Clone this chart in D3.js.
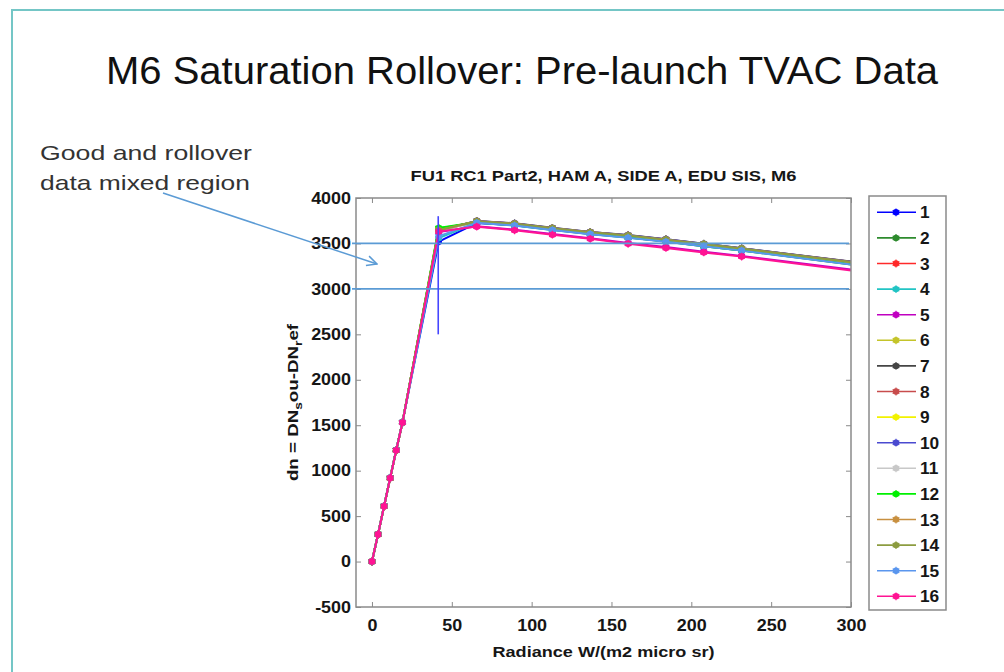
<!DOCTYPE html>
<html>
<head>
<meta charset="utf-8">
<script src="https://cdn.jsdelivr.net/npm/d3@7"></script>
<style>
  body { margin: 0; background: #fff; }
  svg { display: block; font-family: "Liberation Sans", Arial, sans-serif; }
</style>
</head>
<body>
<svg id="chart" width="1004" height="672"></svg>
<script>
// Radiance levels of the TVAC sweep (last point lies beyond the plotted range)
const radiance = [0, 3.8, 7.6, 11.4, 15.2, 19.1, 41.8, 65.6, 89.3, 113, 136.7, 160.4, 184.1, 207.8, 231.5, 320];

// dn = DN_sou - DN_ref for each of the 16 detectors
const det01 = [0, 300, 612, 921, 1228, 1532, 3520, 3725, 3700, 3652, 3607, 3570, 3525, 3476, 3428, 3232];
const det02 = [0, 301, 611, 920, 1226, 1531, 3665, 3730, 3700, 3650, 3605, 3565, 3520, 3470, 3422, 3225];
const det03 = [0, 299, 610, 919, 1227, 1530, 3640, 3740, 3712, 3663, 3618, 3582, 3537, 3488, 3440, 3245];
const det04 = [0, 300, 610, 920, 1225, 1529, 3560, 3728, 3698, 3648, 3603, 3565, 3520, 3470, 3423, 3228];
const det05 = [0, 298, 608, 918, 1224, 1528, 3625, 3690, 3652, 3603, 3558, 3505, 3460, 3410, 3363, 3168];
const det06 = [0, 300, 611, 921, 1226, 1531, 3645, 3742, 3715, 3667, 3621, 3585, 3540, 3491, 3443, 3250];
const det07 = [0, 301, 612, 922, 1228, 1533, 3648, 3748, 3722, 3672, 3626, 3592, 3547, 3497, 3447, 3258];
const det08 = [0, 300, 610, 920, 1226, 1531, 3642, 3745, 3718, 3668, 3623, 3588, 3543, 3494, 3445, 3254];
const det09 = [0, 300, 609, 919, 1225, 1530, 3650, 3735, 3706, 3657, 3612, 3575, 3530, 3481, 3433, 3238];
const det10 = [0, 301, 611, 921, 1227, 1532, 3638, 3746, 3720, 3670, 3625, 3590, 3545, 3496, 3446, 3256];
const det11 = [0, 300, 610, 920, 1226, 1530, 3640, 3738, 3710, 3660, 3615, 3580, 3535, 3486, 3438, 3242];
const det12 = [0, 300, 611, 920, 1226, 1531, 3670, 3733, 3703, 3653, 3608, 3568, 3523, 3473, 3426, 3230];
const det13 = [0, 299, 610, 919, 1225, 1530, 3645, 3744, 3716, 3667, 3622, 3586, 3541, 3492, 3443, 3250];
const det14 = [0, 300, 610, 920, 1226, 1531, 3646, 3743, 3717, 3668, 3622, 3587, 3542, 3493, 3444, 3252];
const det15 = [0, 300, 611, 921, 1227, 1531, 3580, 3727, 3697, 3647, 3602, 3563, 3518, 3468, 3421, 3224];
const det16 = [0, 299, 609, 919, 1225, 1529, 3630, 3685, 3645, 3596, 3551, 3496, 3450, 3401, 3355, 3158];

const detectors = [det01, det02, det03, det04, det05, det06, det07, det08,
                   det09, det10, det11, det12, det13, det14, det15, det16];
const detectorNames = ["1","2","3","4","5","6","7","8","9","10","11","12","13","14","15","16"];
const detectorColors = ["#0000ff","#2e8b2e","#ff2a2a","#22c4c4","#c000c0","#c4c42a","#454545","#c84c4c",
                        "#f2f200","#4a4ad0","#c8c8c8","#00f000","#c89040","#8c9c40","#5a96ee","#ff1493"];

const xTicks = [0, 50, 100, 150, 200, 250, 300];
const yTicks = [-500, 0, 500, 1000, 1500, 2000, 2500, 3000, 3500, 4000];
const xDomain = [-10, 300];
const yDomain = [-500, 4000];

// Threshold lines and the saturation marker
const thresholdLevels = [3500, 3000];
const saturationRadiance = 41.5;
const saturationSpan = [2500, 3800];

const slideTitle = "M6 Saturation Rollover: Pre-launch TVAC Data";
const plotTitle = "FU1 RC1 Part2, HAM A, SIDE A, EDU SIS, M6";
const xLabel = "Radiance W/(m2 micro sr)";
const noteLines = ["Good and rollover", "data mixed region"];

const svg = d3.select("#chart");

function stretch(sel, k) {
  sel.each(function () {
    const w = this.getComputedTextLength();
    this.setAttribute("textLength", w * k);
    this.setAttribute("lengthAdjust", "spacingAndGlyphs");
  });
}

// Slide frame
svg.append("path")
  .attr("d", "M12,672 L12,10 L1004,10")
  .attr("fill", "none").attr("stroke", "#74c6c6").attr("stroke-width", 2);

// Slide title
svg.append("text")
  .attr("x", 106).attr("y", 84)
  .attr("font-size", 38).attr("fill", "#111")
  .attr("textLength", 832).attr("lengthAdjust", "spacingAndGlyphs")
  .text(slideTitle);

// Note text
svg.selectAll("text.note").data(noteLines).join("text")
  .attr("class", "note")
  .attr("x", 40).attr("y", (d, i) => 160 + i * 30)
  .attr("font-size", 21).attr("fill", "#333")
  .attr("textLength", (d, i) => i === 0 ? 212 : 210)
  .attr("lengthAdjust", "spacingAndGlyphs")
  .text(d => d);

// Plot area
const plot = { left: 356, right: 851, top: 198, bottom: 607 };
const x = d3.scaleLinear().domain(xDomain).range([plot.left, plot.right]);
const y = d3.scaleLinear().domain(yDomain).range([plot.bottom, plot.top]);

svg.append("clipPath").attr("id", "plotClip")
  .append("rect")
  .attr("x", plot.left).attr("y", plot.top)
  .attr("width", plot.right - plot.left).attr("height", plot.bottom - plot.top);

svg.append("rect")
  .attr("x", plot.left).attr("y", plot.top)
  .attr("width", plot.right - plot.left).attr("height", plot.bottom - plot.top)
  .attr("fill", "#fff");

const axisColor = "#8a8a8a";
const plainNumber = d => String(d);
const tickFont = g => g.selectAll("text")
  .attr("font-size", 16).attr("font-weight", "bold").attr("fill", "#161616")
  .attr("font-family", "'Liberation Sans', Arial, sans-serif");

const gx = svg.append("g").attr("transform", `translate(0,${plot.bottom})`)
  .call(d3.axisBottom(x).tickValues(xTicks).tickSize(-5).tickPadding(13).tickFormat(plainNumber));
const gxt = svg.append("g").attr("transform", `translate(0,${plot.top})`)
  .call(d3.axisTop(x).tickValues(xTicks).tickSize(-5).tickFormat(""));
const gy = svg.append("g").attr("transform", `translate(${plot.left},0)`)
  .call(d3.axisLeft(y).tickValues(yTicks).tickSize(-5).tickPadding(5).tickFormat(plainNumber));
const gyr = svg.append("g").attr("transform", `translate(${plot.right},0)`)
  .call(d3.axisRight(y).tickValues(yTicks).tickSize(-5).tickFormat(""));
[gx, gxt, gy, gyr].forEach(g => {
  g.select(".domain").remove();
  g.selectAll("line").attr("stroke", axisColor).attr("stroke-width", 1);
  tickFont(g);
});
stretch(gx.selectAll("text"), 1.12);
stretch(gy.selectAll("text"), 1.12);

// Detector curves
const line = d3.line().x((d, i) => x(radiance[i])).y(d => y(d));
const curves = svg.append("g").attr("clip-path", "url(#plotClip)");
const star = d3.symbol(d3.symbolAsterisk, 42);
detectors.forEach((vals, k) => {
  const g = curves.append("g");
  g.append("path").attr("d", line(vals))
    .attr("fill", "none").attr("stroke", detectorColors[k]).attr("stroke-width", 2);
  const pts = g.selectAll("g.pt").data(vals).join("g")
    .attr("class", "pt")
    .attr("transform", (d, i) => `translate(${x(radiance[i])},${y(d)})`);
  pts.append("circle").attr("r", 3.3).attr("fill", detectorColors[k]);
  pts.append("path").attr("d", star).attr("fill", "none")
    .attr("stroke", detectorColors[k]).attr("stroke-width", 1.2);
});

// Axes box
svg.append("rect")
  .attr("x", plot.left).attr("y", plot.top)
  .attr("width", plot.right - plot.left).attr("height", plot.bottom - plot.top)
  .attr("fill", "none").attr("stroke", axisColor).attr("stroke-width", 1.5);

// Threshold lines
svg.selectAll("line.level").data(thresholdLevels).join("line")
  .attr("class", "level")
  .attr("x1", plot.left - 4).attr("x2", plot.right - 2)
  .attr("y1", d => y(d)).attr("y2", d => y(d))
  .attr("stroke", "#5b9bd5").attr("stroke-width", 1.8);

// Saturation marker
svg.append("line")
  .attr("x1", x(saturationRadiance)).attr("x2", x(saturationRadiance))
  .attr("y1", y(saturationSpan[0])).attr("y2", y(saturationSpan[1]))
  .attr("stroke", "#4646ff").attr("stroke-width", 1.6);

// Note arrow
svg.append("defs").append("marker")
  .attr("id", "arrowHead").attr("viewBox", "0 0 12 12")
  .attr("refX", 11).attr("refY", 6)
  .attr("markerWidth", 12).attr("markerHeight", 12).attr("markerUnits", "userSpaceOnUse")
  .attr("orient", "auto")
  .append("path").attr("d", "M1,1 L11,6 L1,11")
  .attr("fill", "none").attr("stroke", "#5b9bd5").attr("stroke-width", 1.5);
svg.append("line")
  .attr("x1", 163).attr("y1", 193).attr("x2", 377).attr("y2", 264)
  .attr("stroke", "#5b9bd5").attr("stroke-width", 1.5)
  .attr("marker-end", "url(#arrowHead)");

// Plot title
svg.append("text")
  .attr("x", (plot.left + plot.right) / 2).attr("y", 181)
  .attr("text-anchor", "middle").attr("font-size", 15.5).attr("font-weight", "bold")
  .attr("fill", "#161616")
  .attr("textLength", 386).attr("lengthAdjust", "spacingAndGlyphs")
  .text(plotTitle);

// X axis label
svg.append("text")
  .attr("x", (plot.left + plot.right) / 2).attr("y", 657)
  .attr("text-anchor", "middle").attr("font-size", 15.5).attr("font-weight", "bold")
  .attr("fill", "#161616")
  .attr("textLength", 222).attr("lengthAdjust", "spacingAndGlyphs")
  .text(xLabel);

// Y axis label with subscripts
const yl = svg.append("text")
  .attr("transform", `translate(298,${(plot.top + plot.bottom) / 2}) rotate(-90) scale(1.25,1)`)
  .attr("text-anchor", "middle").attr("font-size", 15).attr("font-weight", "bold")
  .attr("fill", "#161616");
yl.append("tspan").text("dn = DN");
yl.append("tspan").attr("font-size", 11).attr("dy", 4).text("s");
yl.append("tspan").attr("dy", -4).text("ou-DN");
yl.append("tspan").attr("font-size", 11).attr("dy", 4).text("r");
yl.append("tspan").attr("dy", -4).text("ef");

// Legend
const leg = { left: 869, top: 196, right: 946, bottom: 610, first: 212.3, step: 25.6 };
svg.append("rect")
  .attr("x", leg.left).attr("y", leg.top)
  .attr("width", leg.right - leg.left).attr("height", leg.bottom - leg.top)
  .attr("fill", "#fff").attr("stroke", "#8a8a8a").attr("stroke-width", 1.5);
const items = svg.selectAll("g.legend-item").data(detectorNames).join("g")
  .attr("class", "legend-item")
  .attr("transform", (d, i) => `translate(0,${leg.first + i * leg.step})`);
items.append("line").attr("x1", 877).attr("x2", 916)
  .attr("stroke", (d, i) => detectorColors[i]).attr("stroke-width", 1.6);
items.append("circle").attr("cx", 896).attr("r", 3.2).attr("fill", (d, i) => detectorColors[i]);
items.append("path").attr("transform", "translate(896,0)").attr("d", star)
  .attr("fill", "none").attr("stroke", (d, i) => detectorColors[i]).attr("stroke-width", 1.1);
const legText = items.append("text").attr("x", 920).attr("y", 6)
  .attr("font-size", 16).attr("font-weight", "bold").attr("fill", "#161616")
  .text(d => d);
stretch(legText, 1.08);
</script>
</body>
</html>
